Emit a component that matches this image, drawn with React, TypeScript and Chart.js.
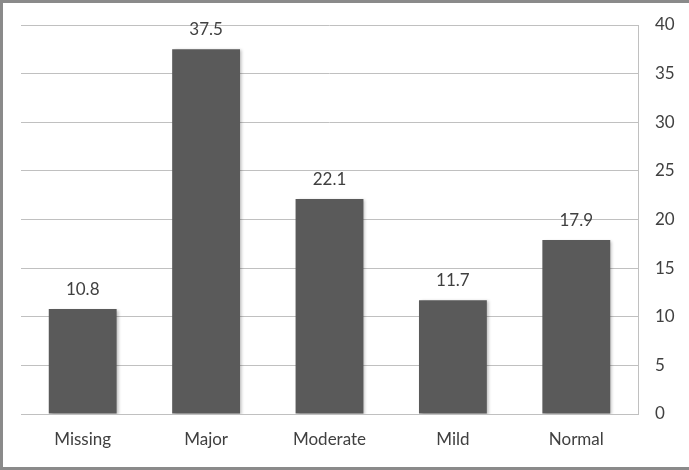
import React, { useEffect, useRef } from "react";
import { Chart, registerables } from "chart.js";

Chart.register(...registerables);

const categories = ["Missing", "Major", "Moderate", "Mild", "Normal"];
const values = [10.8, 37.5, 22.1, 11.7, 17.9];
const yTicks = [0, 5, 10, 15, 20, 25, 30, 35, 40];

const FONT = "Lato, 'Open Sans', sans-serif";

const valueLabels = {
  id: "valueLabels",
  afterDatasetsDraw(chart: any) {
    const ctx = chart.ctx;
    const meta = chart.getDatasetMeta(0);
    ctx.save();
    ctx.font = `17px ${FONT}`;
    ctx.fillStyle = "#404040";
    ctx.textAlign = "center";
    ctx.textBaseline = "bottom";
    meta.data.forEach((el: any, i: number) => {
      ctx.fillText(String(values[i].toFixed(1)), el.x, el.y - 11);
    });
    ctx.restore();
  },
};

const barShadow = {
  id: "barShadow",
  beforeDatasetsDraw(chart: any) {
    const ctx = chart.ctx;
    ctx.save();
    ctx.shadowColor = "rgba(0,0,0,0.25)";
    ctx.shadowBlur = 3;
    ctx.shadowOffsetX = 2;
    ctx.shadowOffsetY = 1;
  },
  afterDatasetsDraw(chart: any) {
    chart.ctx.restore();
  },
};

export default function App() {
  const ref = useRef<HTMLCanvasElement>(null);
  useEffect(() => {
    document.body.style.margin = "0";
    const chart = new Chart(ref.current!, {
      type: "bar",
      data: {
        labels: categories,
        datasets: [
          {
            data: values,
            backgroundColor: "#5a5a5a",
            barPercentage: 0.55,
            categoryPercentage: 1,
          },
        ],
      },
      options: {
        animation: false,
        responsive: false,
        maintainAspectRatio: false,
        layout: { padding: { left: 18, top: 22, right: 0, bottom: 0 } },
        plugins: { legend: { display: false }, tooltip: { enabled: false } },
        scales: {
          x: {
            grid: { display: false, drawTicks: false },
            border: { display: true, color: "#c0c0c0", width: 1 },
            ticks: { color: "#404040", font: { family: FONT, size: 17 }, padding: 15, maxRotation: 0 },
            afterFit(scale: any) {
              scale.height = 53;
              scale.paddingLeft = 0;
              scale.paddingRight = 0;
            },
          },
          y: {
            position: "right",
            min: 0,
            max: 40,
            afterBuildTicks(scale: any) {
              scale.ticks = yTicks.map((v) => ({ value: v }));
            },
            grid: { color: "#c0c0c0", drawTicks: false, lineWidth: 1 },
            border: { display: true, color: "#c0c0c0", width: 1 },
            ticks: { color: "#404040", font: { family: FONT, size: 17 }, padding: 17 },
            afterFit(scale: any) {
              scale.width = 51;
              scale.paddingTop = 0;
              scale.paddingBottom = 0;
            },
          },
        },
      },
      plugins: [barShadow, valueLabels],
    });
    return () => chart.destroy();
  }, []);

  return (
    <div
      style={{
        position: "absolute",
        left: 0,
        top: 0,
        width: 689,
        height: 470,
        boxSizing: "border-box",
        borderTop: "3px solid #8a8a8a",
        borderLeft: "3px solid #8a8a8a",
        borderBottom: "3px solid #8a8a8a",
        background: "#fff",
      }}
    >
      <canvas ref={ref} width={686} height={464} style={{ display: "block" }} />
    </div>
  );
}
